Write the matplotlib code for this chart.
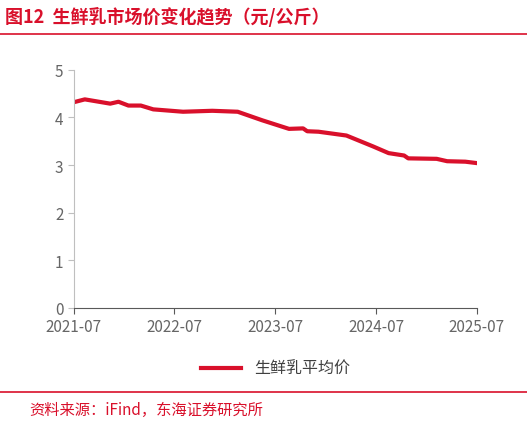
import matplotlib
matplotlib.use("Agg")
import matplotlib.pyplot as plt
import pandas as pd

plt.rcParams['font.family'] = ['Noto Sans CJK SC', 'DejaVu Sans']

dates = ["2021-07-01","2021-08-10","2021-11-10","2021-12-10","2022-01-15","2022-03-01",
         "2022-04-15","2022-08-01","2022-11-15","2023-02-15","2023-05-15","2023-08-20",
         "2023-10-10","2023-10-25","2023-12-05","2024-03-15","2024-06-20","2024-08-15",
         "2024-10-10","2024-10-25","2025-02-05","2025-03-15","2025-05-20","2025-07-01"]
values = [4.32,4.38,4.29,4.33,4.25,4.25,4.17,4.12,4.14,4.12,3.94,3.76,
          3.77,3.71,3.70,3.62,3.39,3.25,3.20,3.14,3.13,3.08,3.07,3.04]
series_name = "生鲜乳平均价"
xticks = ["2021-07","2022-07","2023-07","2024-07","2025-07"]

red = "#d9102b"
fig = plt.figure(figsize=(5.27, 4.27), dpi=100)
ax = fig.add_axes([0.14, 0.277, 0.765, 0.557])
x = pd.to_datetime(dates)
ax.plot(x, values, color=red, lw=3, label=series_name)
ax.set_ylim(0, 5)
ax.set_yticks(range(6))
ax.set_xlim(pd.Timestamp("2021-07-01"), pd.Timestamp("2025-07-01"))
tk = pd.to_datetime([t + "-01" for t in xticks])
ax.set_xticks(tk)
ax.set_xticklabels(xticks)
for s in ["top", "right"]:
    ax.spines[s].set_visible(False)
ax.spines["left"].set_color("#bfbfbf")
ax.spines["bottom"].set_color("#595959")
ax.tick_params(axis="y", colors="#bfbfbf", labelcolor="#666666", labelsize=11, length=4)
ax.tick_params(axis="x", colors="#595959", labelcolor="#666666", labelsize=11, length=4, direction="out")
ax.legend(loc="upper center", bbox_to_anchor=(0.5, -0.16), frameon=False, fontsize=11.5,
          handlelength=2.5, labelcolor="#404040")

fig.text(0.01, 0.96, "图12  生鲜乳市场价变化趋势（元/公斤）", color=red, fontsize=13,
         fontweight="bold", va="center")
fig.add_artist(plt.Line2D([0.0, 1.0], [0.918, 0.918], color=red, lw=1.2))
fig.add_artist(plt.Line2D([0.0, 1.0], [0.08, 0.08], color=red, lw=1.2))
fig.text(0.055, 0.038, "资料来源：iFind，东海证券研究所", color=red, fontsize=11, va="center")
fig.savefig("out.png", dpi=100)
